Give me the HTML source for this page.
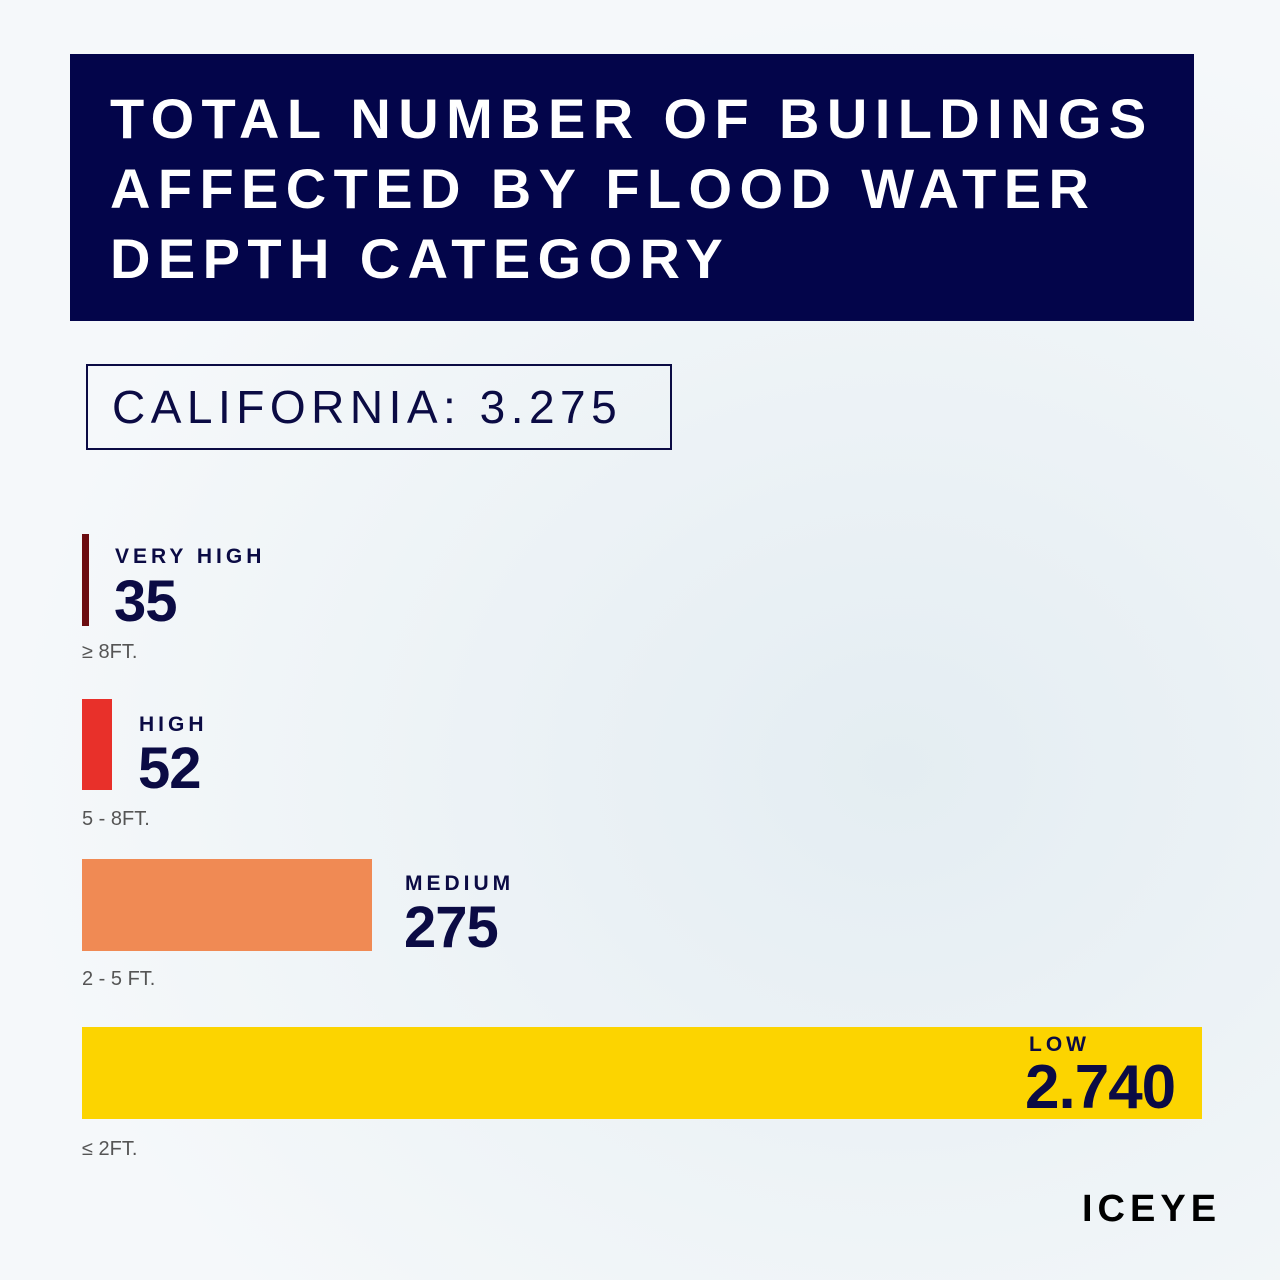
<!DOCTYPE html>
<html><head><meta charset="utf-8"><style>
body{margin:0;width:1280px;height:1280px;background:#f2f7f9;position:relative;overflow:hidden;font-family:"Liberation Sans",sans-serif;}
.a{position:absolute;}
.t{color:#fff;font-weight:bold;font-size:56px;letter-spacing:7.4px;line-height:70px;}
.lab{color:#0b0b44;font-weight:bold;font-size:21px;letter-spacing:4px;}
.num{color:#0b0b44;font-weight:bold;font-size:58px;letter-spacing:-1px;line-height:56px;}
.sub{color:#555;font-size:20px;}
</style></head><body>
<div class="a" style="left:0;top:0;width:1280px;height:1280px;background:radial-gradient(ellipse at 70% 60%,#e4edf2,#f5f8fa 70%);"></div>
<div class="a" style="left:70px;top:54px;width:1124px;height:267px;background:#03054a;"></div>
<div class="a t" style="left:110px;top:84px;">TOTAL NUMBER OF BUILDINGS<br>AFFECTED BY FLOOD WATER<br>DEPTH CATEGORY</div>
<div class="a" style="left:86px;top:364px;width:582px;height:82px;border:2px solid #0b0b44;"></div>
<div class="a" style="left:112px;top:380px;font-size:46px;letter-spacing:5.5px;color:#0b0b44;">CALIFORNIA: 3.275</div>

<div class="a" style="left:82px;top:534px;width:7px;height:92px;background:#6b0c10;"></div>
<div class="a lab" style="left:115px;top:545px;">VERY HIGH</div>
<div class="a num" style="left:114px;top:574px;">35</div>
<div class="a sub" style="left:82px;top:641px;">≥ 8FT.</div>

<div class="a" style="left:82px;top:699px;width:30px;height:91px;background:#e8302a;"></div>
<div class="a lab" style="left:139px;top:713px;">HIGH</div>
<div class="a num" style="left:138px;top:741px;">52</div>
<div class="a sub" style="left:82px;top:808px;">5 - 8FT.</div>

<div class="a" style="left:82px;top:859px;width:290px;height:92px;background:#f08a54;"></div>
<div class="a lab" style="left:405px;top:872px;">MEDIUM</div>
<div class="a num" style="left:404px;top:900px;">275</div>
<div class="a sub" style="left:82px;top:968px;">2 - 5 FT.</div>

<div class="a" style="left:82px;top:1027px;width:1120px;height:92px;background:#fcd400;"></div>
<div class="a lab" style="left:1029px;top:1033px;">LOW</div>
<div class="a num" style="left:1025px;top:1060px;font-size:62px;">2.740</div>
<div class="a sub" style="left:82px;top:1138px;">≤ 2FT.</div>

<div class="a" style="left:1082px;top:1188px;font-size:38px;font-weight:bold;letter-spacing:5px;color:#000;">ICEYE</div>
</body></html>
